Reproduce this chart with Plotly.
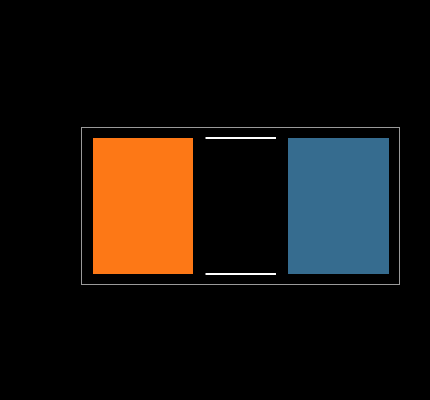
import plotly.graph_objects as go

# three stripes, equal value, varying widths
positions = [0, 1, 2]
values = [1, 1, 1]
widths = [1.02, 0.72, 1.03]
colors = ["#fd7816", "#000000", "#366c8f"]

fig = go.Figure()

fig.add_trace(go.Bar(
    x=[positions[0], positions[2]],
    y=[values[0], values[2]],
    width=[widths[0], widths[2]],
    marker=dict(color=[colors[0], colors[2]], line_width=0),
    hoverinfo="skip",
))

# middle stripe: only top and bottom edges in white
mid_left = positions[1] - widths[1] / 2
mid_right = positions[1] + widths[1] / 2
for level in [0, values[1]]:
    fig.add_trace(go.Scatter(
        x=[mid_left, mid_right],
        y=[level, level],
        mode="lines",
        line=dict(color="#ffffff", width=2),
        hoverinfo="skip",
    ))

fig.update_layout(
    width=430, height=400,
    margin=dict(l=82, r=31, t=128, b=116),
    paper_bgcolor="#000000",
    plot_bgcolor="#000000",
    showlegend=False,
    bargap=0,
)
fig.update_xaxes(range=[-0.622, 2.617], showgrid=False, zeroline=False,
                 showticklabels=False, ticks="", showline=True, mirror=True,
                 linecolor="#9a9a9a", linewidth=1)
fig.update_yaxes(range=[-0.073, 1.073], showgrid=False, zeroline=False,
                 showticklabels=False, ticks="", showline=True, mirror=True,
                 linecolor="#9a9a9a", linewidth=1)

# page itself black, no body margin
fig.write_html("out.html",
               config={"displayModeBar": False},
               post_script="document.body.style.margin='0';"
                           "document.body.style.background='#000';")
